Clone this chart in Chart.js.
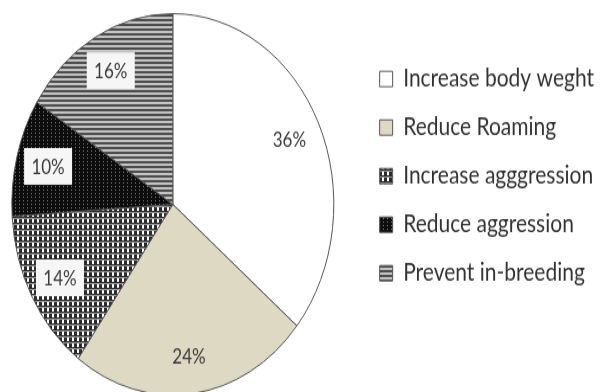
<!DOCTYPE html>
<html lang="en">
<head>
    <meta charset="UTF-8" />
    <title>Reasons for castration</title>
    <style>
        html, body {
            margin: 0;
            padding: 0;
            background: #fff;
            overflow: hidden;
        }
        #pie {
            display: block;
            margin-left: -14px;
        }
    </style>
    <script src="https://cdn.jsdelivr.net/npm/chart.js"></script>
</head>
<body>
<!-- the scan is stretched vertically, so the canvas is drawn at 331 high and shown at 392.
     it also sits 14px left, chart.js won't take a negative left padding -->
<canvas id="pie" width="618" height="331" style="width:618px;height:392px"></canvas>

<script>
  const categories = [
    "Increase body weght",
    "Reduce Roaming",
    "Increase agggression",
    "Reduce aggression",
    "Prevent in-breeding"
  ];
  const percents = [36, 24, 14, 10, 16];

  // little tiles used as fills, the picture is a scanned b/w pie
  function makePattern(w, h, draw) {
    const c = document.createElement("canvas");
    c.width = w;
    c.height = h;
    const g = c.getContext("2d");
    draw(g);
    return g.createPattern(c, "repeat");
  }

  const checks = makePattern(5, 5, (g) => {
    g.fillStyle = "#2a2a2a";
    g.fillRect(0, 0, 5, 5);
    g.fillStyle = "#9a9a9a";
    g.fillRect(0, 4, 5, 1);
    g.fillStyle = "#ffffff";
    g.fillRect(1, 0, 2, 3);
  });
  const dots = makePattern(4, 3, (g) => {
    g.fillStyle = "#0d0d0d";
    g.fillRect(0, 0, 4, 3);
    g.fillStyle = "#7a7a7a";
    g.fillRect(1, 1, 1, 1);
  });
  const stripes = makePattern(4, 4, (g) => {
    g.fillStyle = "#4c4c4c";
    g.fillRect(0, 0, 4, 2);
    g.fillStyle = "#c4c4c4";
    g.fillRect(0, 2, 4, 2);
  });

  const fills = ["#ffffff", "#ddd9c3", checks, dots, stripes];

  // percentage labels, boxed on the patterned slices
  const sliceLabels = {
    id: "sliceLabels",
    afterDatasetsDraw(chart) {
      const ctx = chart.ctx;
      const meta = chart.getDatasetMeta(0);
      ctx.save();
      ctx.font = "17px Lato";
      ctx.textAlign = "center";
      ctx.textBaseline = "middle";
      meta.data.forEach((arc, i) => {
        const p = arc.getProps(["x", "y", "startAngle", "endAngle", "outerRadius"], true);
        const mid = (p.startAngle + p.endAngle) / 2;
        const r = p.outerRadius * 0.8;
        const x = p.x + Math.cos(mid) * r;
        const y = p.y + Math.sin(mid) * r;
        if (typeof fills[i] !== "string") {
          ctx.fillStyle = "#f6f6f6";
          ctx.fillRect(x - 24, y - 15.5, 48, 31);
        }
        ctx.fillStyle = "#3a3a3a";
        ctx.fillText(percents[i] + "%", x, y + 1);
      });
      ctx.restore();
    }
  };

  const ctx = document.getElementById("pie").getContext("2d");
  new Chart(ctx, {
    type: "pie",
    data: {
      labels: categories,
      datasets: [
        {
          data: percents,
          backgroundColor: fills,
          borderColor: "#555555",
          borderWidth: 1,
          radius: 161
        }
      ]
    },
    options: {
      responsive: false,
      animation: false,
      devicePixelRatio: 1,
      layout: {
        padding: { left: 0, top: 14, right: 0, bottom: 0 }
      },
      plugins: {
        legend: {
          position: "right",
          align: "start",
          title: {
            display: true,
            text: " ",
            font: { size: 1 },
            padding: { top: 21, bottom: 0 }
          },
          labels: {
            boxWidth: 13,
            boxHeight: 13,
            padding: 20,
            color: "#333333",
            font: { family: "Lato", size: 21 }
          }
        },
        tooltip: { enabled: false }
      }
    },
    plugins: [sliceLabels]
  });
</script>
</body>
</html>
